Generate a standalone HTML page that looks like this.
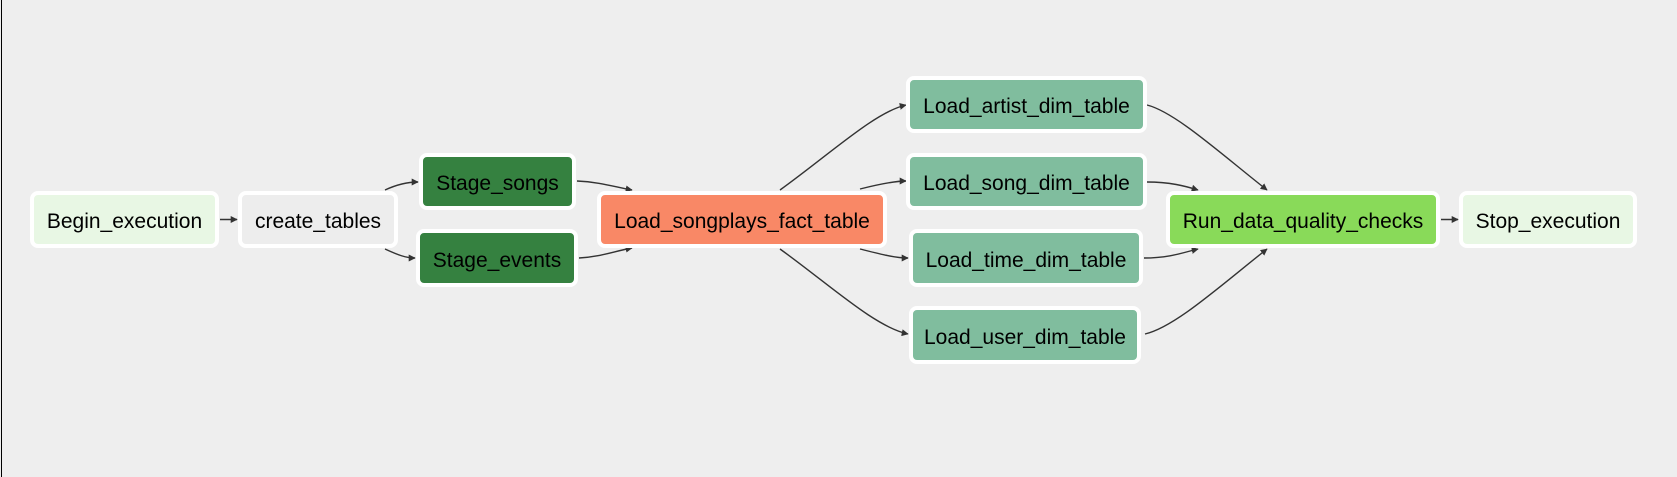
<!DOCTYPE html>
<html><head><meta charset="utf-8"><style>
html,body{margin:0;padding:0}
body{width:1677px;height:477px;background:#eeeeee;position:relative;overflow:hidden;font-family:"Liberation Sans",Arial,sans-serif}
.lb{position:absolute;left:1px;top:0;width:1px;height:477px;background:#000}
.n{position:absolute;box-sizing:border-box;border:4px solid #fff;border-radius:8px;display:flex;align-items:center;justify-content:center;font-size:21px;color:#000;white-space:nowrap;padding-top:5px}
svg{position:absolute;left:0;top:0}
</style></head><body>
<div class="lb"></div>
<svg width="1677" height="477" viewBox="0 0 1677 477">
<defs><marker id="a" viewBox="0 0 10 10" refX="9" refY="5" markerWidth="7" markerHeight="7" markerUnits="userSpaceOnUse" orient="auto"><path d="M0,0 L10,5 L0,10 z" fill="#333"/></marker></defs>
<g fill="none" stroke="#333" stroke-width="1.4" marker-end="url(#a)">
<path d="M220,219.5 L237,219.5"/>
<path d="M385,190 C398,184 408,182 418,182"/>
<path d="M385,249 C398,255 406,258 415,258"/>
<path d="M577,181 C600,182 615,187 632,190"/>
<path d="M579,258 C600,257 615,251 632,248"/>
<path d="M780,190 C830,154 875,112 906,105"/>
<path d="M860,189 C880,184 895,181 906,181"/>
<path d="M860,249 C880,254 895,258 908,258"/>
<path d="M780,249 C830,285 875,327 908,334"/>
<path d="M1147,105 C1175,112 1220,153 1267,190"/>
<path d="M1147,182 C1170,182 1185,186 1198,190"/>
<path d="M1144,258 C1170,258 1185,252 1198,249"/>
<path d="M1145,334 C1175,327 1220,286 1267,249"/>
<path d="M1441,219.5 L1458,219.5"/>
</g></svg>
<div class="n" style="left:30px;top:191px;width:189px;height:57px;background:#e8f7e4">Begin_execution</div>
<div class="n" style="left:238px;top:191px;width:160px;height:57px;background:#ededed">create_tables</div>
<div class="n" style="left:419px;top:153px;width:157px;height:57px;background:#358140">Stage_songs</div>
<div class="n" style="left:416px;top:229px;width:162px;height:58px;background:#358140">Stage_events</div>
<div class="n" style="left:597px;top:191px;width:290px;height:57px;background:#f98866">Load_songplays_fact_table</div>
<div class="n" style="left:906px;top:76px;width:241px;height:57px;background:#80bd9e">Load_artist_dim_table</div>
<div class="n" style="left:906px;top:153px;width:241px;height:57px;background:#80bd9e">Load_song_dim_table</div>
<div class="n" style="left:909px;top:229px;width:234px;height:58px;background:#80bd9e">Load_time_dim_table</div>
<div class="n" style="left:909px;top:306px;width:232px;height:58px;background:#80bd9e">Load_user_dim_table</div>
<div class="n" style="left:1166px;top:191px;width:274px;height:57px;background:#89da59">Run_data_quality_checks</div>
<div class="n" style="left:1459px;top:191px;width:178px;height:57px;background:#e8f7e4">Stop_execution</div>
</body></html>
